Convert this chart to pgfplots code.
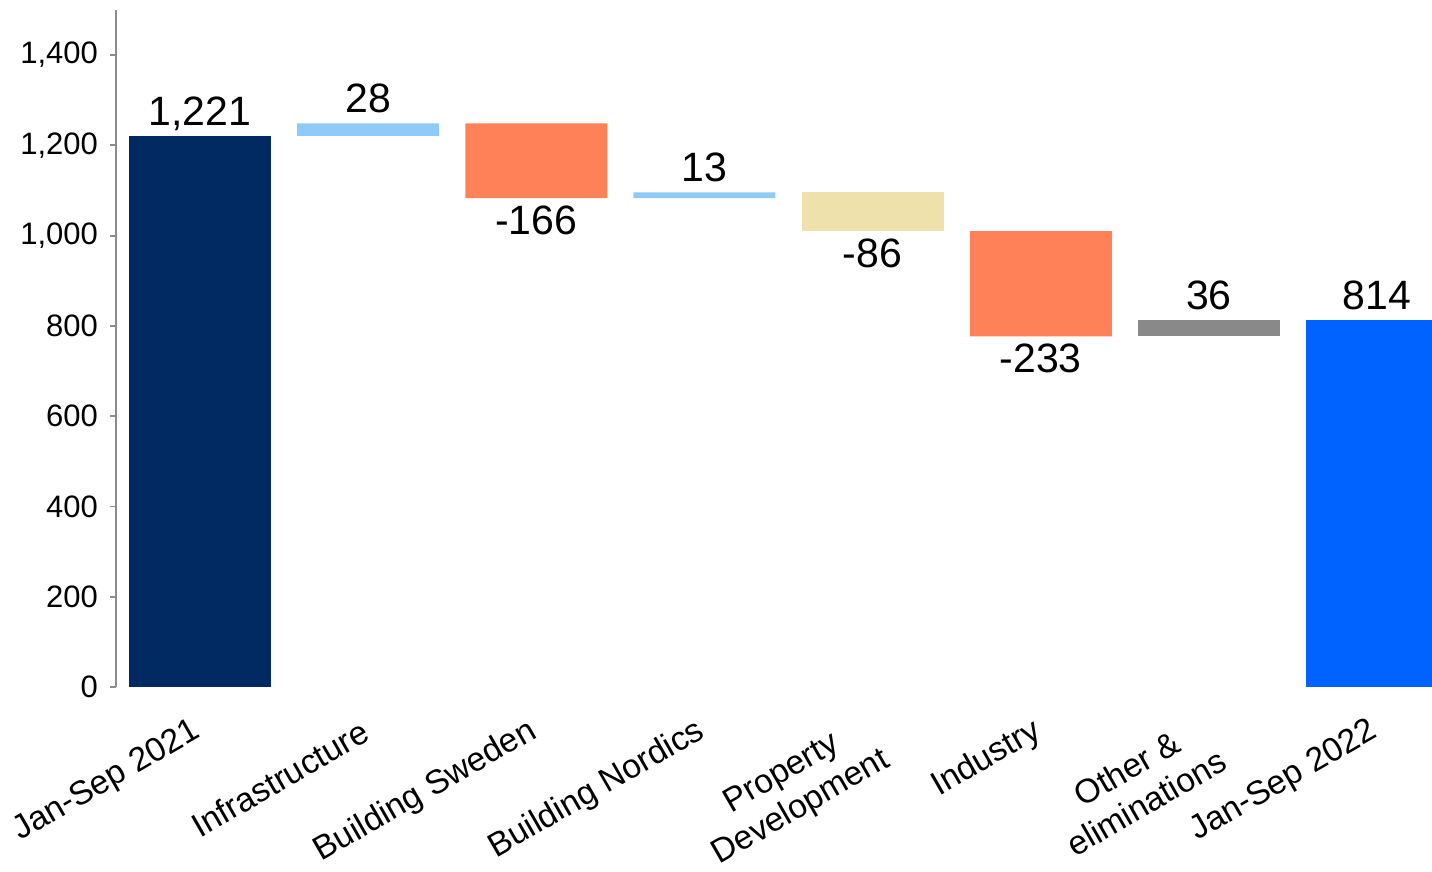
\documentclass[border=0pt]{standalone}
\usepackage{pgfplots}
\pgfplotsset{compat=1.18}
\usepackage{fontspec}
\setmainfont{Liberation Sans}
\definecolor{navy}{HTML}{012A62}
\definecolor{lblue}{HTML}{90CAF9}
\definecolor{wcoral}{HTML}{FF8157}
\definecolor{wbeige}{HTML}{EFE1AB}
\definecolor{wgrey}{HTML}{898989}
\definecolor{bblue}{HTML}{0062FF}
\definecolor{axgrey}{HTML}{8C8C8C}
\pgfplotsset{
  wfbase/.style={scale only axis, width=658pt, height=338.5pt,
    xmin=-0.5, xmax=7.327, ymin=0, ymax=1500},
}
\begin{document}
\begin{tikzpicture}
\begin{axis}[
  name=ax, wfbase,
  ybar stacked, bar width=71pt,
  axis x line*=bottom, axis y line*=left,
  x axis line style={draw=none},
  y axis line style={draw=axgrey, line width=0.9pt},
  xtick={0,1,2,3,4,5,6,7},
  xticklabels={Jan-Sep 2021, Infrastructure, Building Sweden, Building Nordics, {\rule{0pt}{26pt}Property\\Development}, Industry, {\rule{0pt}{26pt}Other \&\\eliminations}, Jan-Sep 2022},
  xtick style={draw=none},
  ytick={0,200,...,1400},
  ytick style={draw=axgrey, line width=0.9pt},
  tick align=outside, major tick length=3pt,
  /pgf/number format/assume math mode=true,
  /pgf/number format/1000 sep={,},
  yticklabel style={font=\fontsize{15.5}{18}\selectfont, xshift=-2.5pt},
  xticklabel style={font=\fontsize{16.8}{19.5}\selectfont, yshift=-18pt, xshift=-1pt, rotate=30, anchor=east, align=center, inner sep=0pt},
  clip=true,
]
% invisible base
\addplot[draw=none, fill=none] coordinates {
  (0,0) (1,1221) (2,1083) (3,1083) (4,1010) (5,777) (6,777) (7,0)};
\addplot[draw=none, fill=navy] coordinates {
  (0,1221) (1,0) (2,0) (3,0) (4,0) (5,0) (6,0) (7,0)};
\addplot[draw=none, fill=lblue] coordinates {
  (0,0) (1,28) (2,0) (3,13) (4,0) (5,0) (6,0) (7,0)};
\addplot[draw=none, fill=wcoral] coordinates {
  (0,0) (1,0) (2,166) (3,0) (4,0) (5,233) (6,0) (7,0)};
\addplot[draw=none, fill=wbeige] coordinates {
  (0,0) (1,0) (2,0) (3,0) (4,86) (5,0) (6,0) (7,0)};
\addplot[draw=none, fill=wgrey] coordinates {
  (0,0) (1,0) (2,0) (3,0) (4,0) (5,0) (6,36) (7,0)};
\addplot[draw=none, fill=bblue] coordinates {
  (0,0) (1,0) (2,0) (3,0) (4,0) (5,0) (6,0) (7,814)};
\end{axis}
\begin{axis}[
  wfbase, hide axis, clip=false,
  point meta=explicit symbolic,
  nodes near coords,
  every node near coord/.append style={font=\fontsize{20.5}{24}\selectfont, inner sep=3.5pt, text depth=0pt},
]
\addplot[draw=none, mark=none, nodes near coords style={anchor=south, yshift=1.5pt}] coordinates {
  (0,1221) [1,221] (1,1249) [28] (3,1096) [13] (6,813) [36] (7,814) [814]};
\addplot[draw=none, mark=none, nodes near coords style={anchor=north}] coordinates {
  (2,1083) [-166] (4,1010) [-86] (5,777) [-233]};
\end{axis}
\pgfresetboundingbox
\path ([shift={(-58pt,-92.5pt)}]ax.south west) rectangle ++(716pt,436pt);
\end{tikzpicture}
\end{document}
